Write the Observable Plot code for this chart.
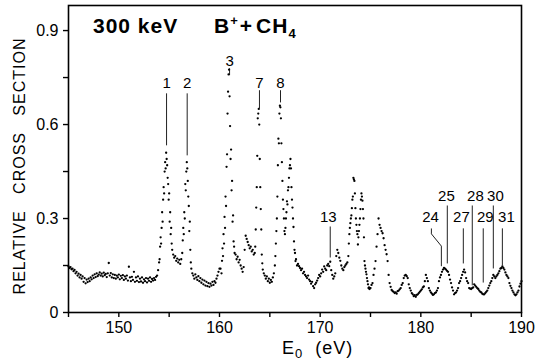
<!DOCTYPE html>
<html><head><meta charset="utf-8">
<script src="https://cdn.jsdelivr.net/npm/d3@7"></script>
<script src="https://cdn.jsdelivr.net/npm/@observablehq/plot@0.6"></script>
<style>
body{margin:0;background:#fff}
svg{font-family:"Liberation Sans",Arial,sans-serif}
</style>
</head><body><div id="chart"></div>
<script>
// ---- data: relative cross section vs E0 (eV) ----
// each segment: start energy, energy step, values
const bg1Start = 145.0, bg1Step = 0.1;
const bg1 = [.147,.142,.145,.138,.140,.132,.136,.125,.130,.118,
 .124,.112,.120,.108,.115,.098,.110,.093,.105,.097,
 .108,.100,.112,.106,.118,.110,.122,.113,.125,.116,
 .121,.128,.118,.124,.115,.127,.119,.123,.113,.125,
 .158,.118,.126,.112,.122,.110,.120,.108,.118,.112,
 .121,.106,.117,.110,.119,.104,.115,.108,.118,.102,
 .146,.112,.100,.114,.104,.130,.098,.112,.101,.115,
 .097,.108,.099,.112,.095,.106,.100,.110,.096,.108,
 .101,.112,.098,.107,.102,.110,.104,.114,.118,.135,
 .160];
const peak1Start = 154.05, peak1Step = 0.05;
const peak1 = [.17,.21,.24,.22,.27,.32,.29,.36,.40,.38,.45,.48,.46,.51,.49,.47,.43,.41,.36,.38,.29,.32,.25,.27,.22,.20];
const mid1Start = 155.4, mid1Step = 0.1;
const mid1 = [.185,.175,.18,.165,.172,.16,.168,.155,.17,.19];
const peak2Start = 156.35, peak2Step = 0.05;
const peak2 = [.23,.27,.25,.32,.30,.41,.39,.45,.48,.46,.42,.37,.34,.26,.29,.20,.16,.14];
const bg2Start = 157.3, bg2Step = 0.1;
const bg2 = [.125,.118,.108,.122,.112,.104,.116,.100,.110,.095,.105,.090,.102,.086,.098,.084,.094,.082,.092,.086,.098,.088,.100,.095,.108,.118,.130,.140,.14,.125];
const peak3Start = 160.25, peak3Step = 0.05;
const peak3 = [.165,.205,.18,.25,.22,.305,.27,.37,.34,.465,.505,.635,.705,.76,.775,.69,.595,.49,.52,.39,.42,.29,.31,.227,.21,.19];
const mid2Start = 161.6, mid2Step = 0.1;
const mid2 = [.185,.17,.178,.16,.168,.15,.14,.13,.145,.20,.245,.235,.225,.215,.205,.21,.195,.2,.185,.19];
const peak7Start = 163.55, peak7Step = 0.05;
const peak7 = [.21,.265,.335,.40,.50,.62,.635,.65,.60,.49,.40,.33,.265,.185,.157,.137];
const bg3Start = 164.4, bg3Step = 0.1;
const bg3 = [.125,.118,.108,.115,.100,.108,.095,.104,.098,.112,.125,.15];
const peak8Start = 165.55, peak8Step = 0.05;
const peak8 = [.18,.22,.26,.30,.37,.47,.555,.54,.635,.66,.655,.62,.54,.48,.42,.36,.33,.30,.26,
 .25,.27,.30,.32,.355,.345,.39,.40,.43,.46,.47,.49,.46,.40,.36,.335,.30,.273,.227,.20,.19,.164,.17];
const bg4Start = 167.7, bg4Step = 0.1;
const bg4 = [.15,.155,.148,.142,.135,.14,.125,.13,.12,.115,.11,.118,.105,.10,.092,.098,.084,.078,.09,.095,.102,.11,.12,.115,.125,.137,.13,.147,.14,.135,.15,.155,.148,.162];
const mid3Start = 171.1, mid3Step = 0.1;
const mid3 = [.135,.12,.108,.115,.125,.18,.20,.19,.175,.165,.15,.14,.135,.145,.15,.155,.16,.18];
const peak173Start = 172.85, peak173Step = 0.05;
const peak173 = [.22,.25,.27,.285,.30,.31,.333,.36,.37,.43,.425,.42,.38,.333,.30,.28,.26,.25,.217,.24,.26,.28,.30,.33,.36,.38,.37,.357,.33,.30,.24,.164,.15,.14,.13,.122,.11,.10,.09,.078,.08,.075,.078];
const tailStart = 175.0, tailStep = 0.1;
const tail = [.078,.088,.094,.12,.14,.164,.21,.25,.30,.28,
 .27,.26,.253,.237,.215,.20,.186,.164,.12,.094,
 .082,.072,.068,.066,.062,.064,.060,.068,.070,.074,
 .078,.088,.094,.11,.118,.12,.116,.11,.09,.078,
 .07,.062,.058,.052,.055,.050,.056,.058,.062,.066,
 .07,.074,.08,.083,.10,.12,.11,.10,.078,.07,
 .064,.060,.056,.058,.062,.064,.07,.078,.10,.112,
 .12,.13,.137,.142,.14,.137,.133,.13,.12,.105,
 .094,.08,.07,.058,.062,.064,.07,.078,.094,.10,
 .11,.12,.13,.137,.128,.11,.10,.094,.078,.076,
 .075,.078,.08,.09,.086,.082,.078,.075,.07,.066,
 .064,.060,.058,.058,.062,.066,.07,.078,.086,.094,
 .10,.11,.12,.115,.11,.115,.12,.125,.132,.14,
 .142,.147,.142,.137,.128,.12,.115,.11,.094,.085,
 .078,.07,.064,.058,.055,.058,.064,.07,.083,.092,
 .10];

// ---- peak labels (energy of label, label level, line top/bottom) ----
const peakNames   = ["1","2","3","7","8","13","24","25","27","28","29","30","31"];
const peakTextE   = [154.74,156.79,161.0,163.97,166.06,170.8,180.96,182.54,184.03,185.42,186.41,187.41,188.5];
const peakTextY   = [0.733,0.733,0.803,0.733,0.733,0.305,0.305,0.372,0.305,0.372,0.305,0.372,0.305];
const lineE       = [154.74,156.79,161.0,163.97,166.06,171.0,182.63,184.22,185.11,186.2,187.2,188.1];
const lineTop     = [0.698,0.698,0.778,0.708,0.708,0.273,0.340,0.267,0.340,0.267,0.340,0.267];
const lineBottom  = [0.532,0.500,0.756,0.650,0.669,0.174,0.155,0.155,0.085,0.094,0.139,0.149];
const line24E     = [181.05,181.05,182.04,182.04];
const line24Y     = [0.267,0.251,0.212,0.149];

// ---- axes ----
const xTicks = [145,150,155,160,165,170,175,180,185,190];
const xLabelled = [150,160,170,180,190];
const yTicks = [0,0.15,0.3,0.45,0.6,0.75,0.9];
const yLabelled = [0,0.3,0.6,0.9];

// ---- build tables ----
const segments = [
  [bg1Start,bg1Step,bg1],[peak1Start,peak1Step,peak1],[mid1Start,mid1Step,mid1],
  [peak2Start,peak2Step,peak2],[bg2Start,bg2Step,bg2],[peak3Start,peak3Step,peak3],
  [mid2Start,mid2Step,mid2],[peak7Start,peak7Step,peak7],[bg3Start,bg3Step,bg3],
  [peak8Start,peak8Step,peak8],[bg4Start,bg4Step,bg4],[mid3Start,mid3Step,mid3],
  [peak173Start,peak173Step,peak173],[tailStart,tailStep,tail]
];
const points = segments.flatMap(([s, st, vals]) => vals.map((v, i) => ({E: +(s + i*st).toFixed(3), sigma: v})));
const labels = peakNames.map((t, i) => ({t, E: peakTextE[i], y: peakTextY[i]}));
const rules = lineE.map((E, i) => ({E, y1: lineTop[i], y2: lineBottom[i]}));
const bent = line24E.map((E, i) => ({E, y: line24Y[i]}));

const plot = Plot.plot({
  width: 537, height: 364,
  marginLeft: 68, marginRight: 16, marginTop: 5, marginBottom: 52,
  style: {fontSize: "16px", fontFamily: "'Liberation Sans', Arial, sans-serif", color: "#000", background: "#fff"},
  x: {domain: [145, 190]},
  y: {domain: [0, 0.98]},
  marks: [
    Plot.frame({stroke: "#000", strokeWidth: 1.6}),
    Plot.axisX({ticks: xTicks, tickSize: 5, tickPadding: 4, strokeWidth: 1.4, label: null,
      tickFormat: d => xLabelled.includes(d) ? String(d) : ""}),
    Plot.axisY({ticks: yTicks, tickSize: 5, tickPadding: 5, strokeWidth: 1.4, label: null,
      tickFormat: d => yLabelled.includes(d) ? (d === 0 ? "0" : d.toFixed(1)) : ""}),
    Plot.ruleX(rules, {x: "E", y1: "y1", y2: "y2", stroke: "#222", strokeWidth: 1}),
    Plot.line(bent, {x: "E", y: "y", stroke: "#222", strokeWidth: 1}),
    Plot.text(labels, {x: "E", y: "y", text: "t", fontSize: 15, fill: "#000"}),
    Plot.dot(points, {x: "E", y: "sigma", r: 1.15, fill: "#000", stroke: null})
  ]
});

const svg = d3.select(plot);
// title inside the frame
svg.append("text").attr("x", 93).attr("y", 33).attr("text-anchor", "start")
  .style("font-size", "21px").style("font-weight", "bold").style("letter-spacing", "1px")
  .text("300 keV");
const t2 = svg.append("text").attr("x", 214).attr("y", 33).attr("text-anchor", "start")
  .style("font-size", "21px").style("font-weight", "bold").style("letter-spacing", "1px");
t2.append("tspan").text("B");
t2.append("tspan").attr("dy", -8).style("font-size", "13px").text("+");
t2.append("tspan").attr("dy", 8).attr("dx", 1).text("+");
t2.append("tspan").attr("dx", 3).text("CH");
t2.append("tspan").attr("dy", 5).style("font-size", "13px").text("4");
// y title
svg.append("text").attr("transform", "translate(25,166) rotate(-90)")
  .attr("text-anchor", "middle").style("font-size", "16px").style("letter-spacing", "1px")
  .style("white-space", "pre").text("RELATIVE   CROSS   SECTION");
// x title
const xt = svg.append("text").attr("x", 282).attr("y", 354).attr("text-anchor", "start")
  .style("font-size", "18px").style("letter-spacing", "1px").style("white-space", "pre");
xt.append("tspan").text("E");
xt.append("tspan").attr("dy", 4).style("font-size", "13px").text("0");
xt.append("tspan").attr("dy", -4).text("  (eV)");

document.getElementById("chart").append(plot);
</script>
</body></html>
